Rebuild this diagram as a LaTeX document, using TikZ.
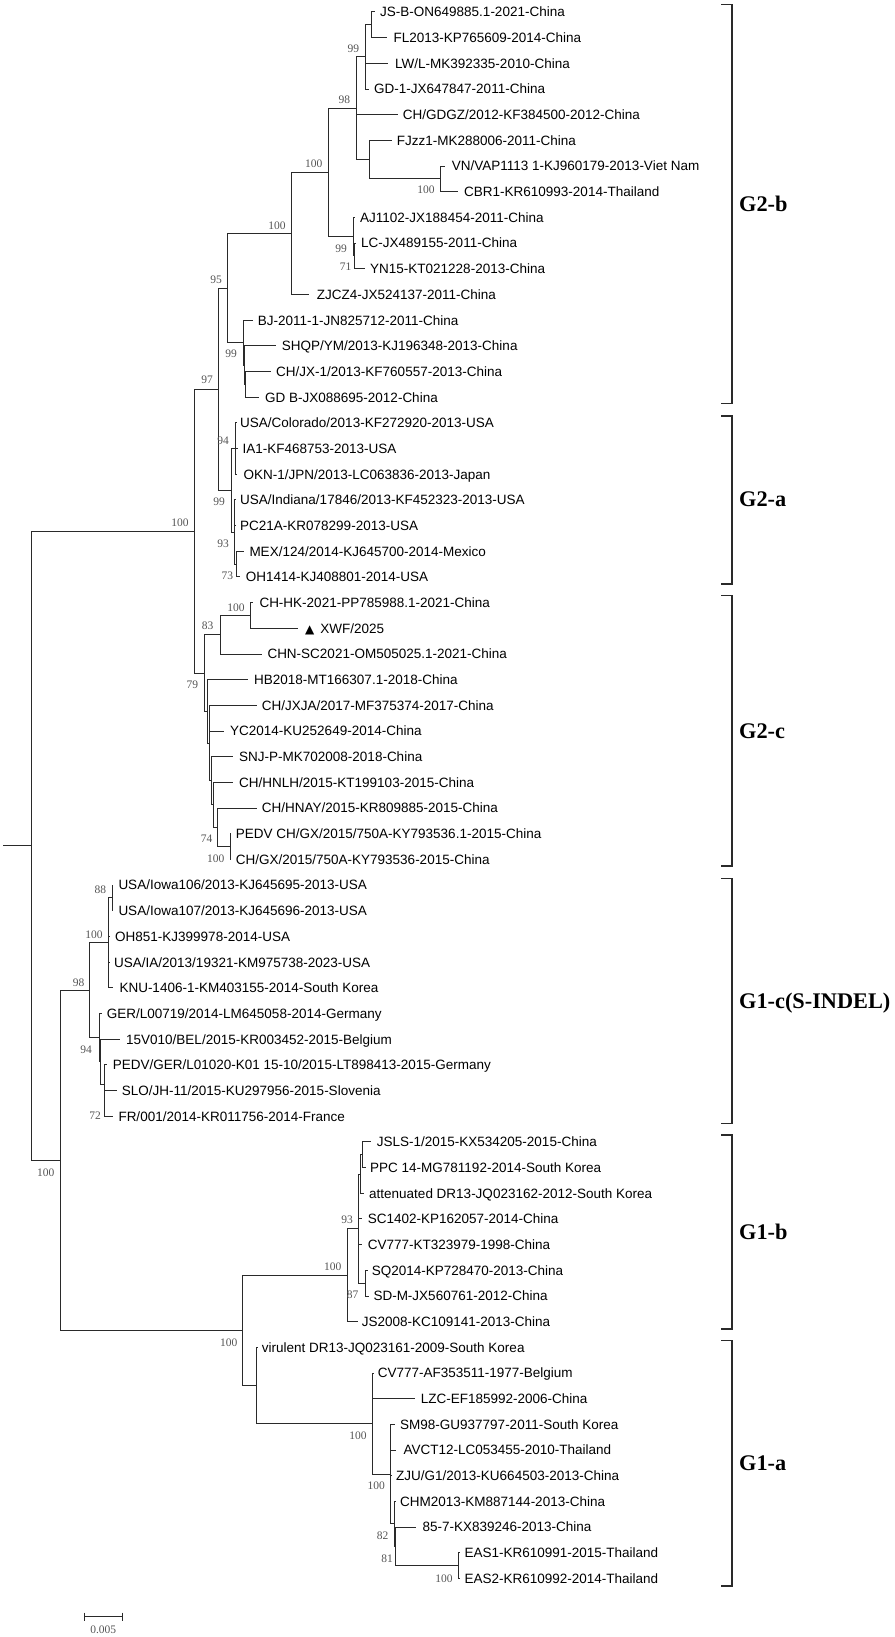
\documentclass[tikz,border=0pt]{standalone}
\usepackage{fontspec}
\newfontfamily\SansF{Liberation Sans}
\newfontfamily\SerifF{Liberation Serif}
\newfontfamily\SymF{DejaVu Sans}
\newcommand{\LeafFont}{\SansF\fontsize{13.5}{15}\selectfont}
\newcommand{\BsFont}{\SerifF\fontsize{11.5}{13}\selectfont}
\newcommand{\CladeFont}{\SerifF\bfseries\fontsize{22.3}{24}\selectfont}
\definecolor{bsgray}{HTML}{555555}
\definecolor{linec}{HTML}{2A2A2A}
\tikzset{
  br/.style={draw=linec, line width=1pt},
  leaf/.style={font=\LeafFont, text=black, anchor=west, inner sep=0pt, text height=9.7pt, text depth=0pt},
  bs/.style={font=\BsFont, text=bsgray, inner sep=0pt, text height=7.8pt, text depth=0pt},
  clade/.style={font=\CladeFont, text=black, anchor=west, inner sep=0pt, text height=14.8pt, text depth=0pt},
  brk/.style={draw=linec, line width=1.2pt}
}
% leaf: id, index, tip x, text x, text
\newcommand{\Lf}[5]{%
  \coordinate (#1) at (#3, {12+25.68*#2});
  \node[leaf] (#1t) at (#4, {12+25.68*#2}) {#5};
}
\newcommand{\Kids}[2]{\foreach \c in {#2}{\draw[br] (#1) |- (\c);}}
\newcommand{\Bs}[4]{\node[bs] (#1) at (#2,#3) {#4};}
\newcommand{\Brk}[5]{%
  \coordinate (#1a) at (721,#2); \coordinate (#1b) at (732,#2);
  \coordinate (#1c) at (732,#3); \coordinate (#1d) at (721,#3);
  \draw[brk] (#1a) -- (#1b) -- (#1c) -- (#1d);
  \node[clade] (#1l) at (739,#5) {#4};
}
\begin{document}
\begin{tikzpicture}[x=1pt, y=-1pt]
\fill[white] (0,0) rectangle (894,1637);
\useasboundingbox (0,0) rectangle (894,1637);

% ---------------- leaves ----------------
\Lf{L0}{0}{375}{380}{JS-B-ON649885.1-2021-China}
\Lf{L1}{1}{386.7}{393.3}{FL2013-KP765609-2014-China}
\Lf{L2}{2}{388.3}{395}{LW/L-MK392335-2010-China}
\Lf{L3}{3}{369}{374}{GD-1-JX647847-2011-China}
\Lf{L4}{4}{397.7}{402.7}{CH/GDGZ/2012-KF384500-2012-China}
\Lf{L5}{5}{391.7}{396.7}{FJzz1-MK288006-2011-China}
\Lf{L6}{6}{445}{451.7}{VN/VAP1113 1-KJ960179-2013-Viet Nam}
\Lf{L7}{7}{458.3}{464}{CBR1-KR610993-2014-Thailand}
\Lf{L8}{8}{355}{360}{AJ1102-JX188454-2011-China}
\Lf{L9}{9}{356}{361}{LC-JX489155-2011-China}
\Lf{L10}{10}{365}{370}{YN15-KT021228-2013-China}
\Lf{L11}{11}{309}{316.7}{ZJCZ4-JX524137-2011-China}
\Lf{L12}{12}{253.3}{257.7}{BJ-2011-1-JN825712-2011-China}
\Lf{L13}{13}{276}{281.7}{SHQP/YM/2013-KJ196348-2013-China}
\Lf{L14}{14}{271}{276}{CH/JX-1/2013-KF760557-2013-China}
\Lf{L15}{15}{259.3}{265}{GD B-JX088695-2012-China}
\Lf{L16}{16}{236.7}{240}{USA/Colorado/2013-KF272920-2013-USA}
\Lf{L17}{17}{237.7}{242.3}{IA1-KF468753-2013-USA}
\Lf{L18}{18}{237.3}{243.3}{OKN-1/JPN/2013-LC063836-2013-Japan}
\Lf{L19}{19}{235.5}{240}{USA/Indiana/17846/2013-KF452323-2013-USA}
\Lf{L20}{20}{235.5}{240}{PC21A-KR078299-2013-USA}
\Lf{L21}{21}{244.3}{249.3}{MEX/124/2014-KJ645700-2014-Mexico}
\Lf{L22}{22}{240}{245.7}{OH1414-KJ408801-2014-USA}
\Lf{L23}{23}{253.3}{259.3}{CH-HK-2021-PP785988.1-2021-China}
\Lf{L24}{24}{297.7}{305}{{\SymF\fontsize{12}{14}\selectfont ▲}\hspace{6pt}XWF/2025}
\Lf{L25}{25}{261.7}{267.3}{CHN-SC2021-OM505025.1-2021-China}
\Lf{L26}{26}{248.3}{254}{HB2018-MT166307.1-2018-China}
\Lf{L27}{27}{256.7}{261.7}{CH/JXJA/2017-MF375374-2017-China}
\Lf{L28}{28}{224}{230}{YC2014-KU252649-2014-China}
\Lf{L29}{29}{233.3}{239}{SNJ-P-MK702008-2018-China}
\Lf{L30}{30}{233.3}{239}{CH/HNLH/2015-KT199103-2015-China}
\Lf{L31}{31}{256.7}{261.7}{CH/HNAY/2015-KR809885-2015-China}
\Lf{L32}{32}{231}{235.7}{PEDV CH/GX/2015/750A-KY793536.1-2015-China}
\Lf{L33}{33}{231}{235.7}{CH/GX/2015/750A-KY793536-2015-China}
\Lf{L34}{34}{113.3}{118.3}{USA/Iowa106/2013-KJ645695-2013-USA}
\Lf{L35}{35}{113.3}{118.3}{USA/Iowa107/2013-KJ645696-2013-USA}
\Lf{L36}{36}{110}{115}{OH851-KJ399978-2014-USA}
\Lf{L37}{37}{109.5}{114}{USA/IA/2013/19321-KM975738-2023-USA}
\Lf{L38}{38}{113.3}{119.3}{KNU-1406-1-KM403155-2014-South Korea}
\Lf{L39}{39}{101.7}{106.7}{GER/L00719/2014-LM645058-2014-Germany}
\Lf{L40}{40}{120}{126}{15V010/BEL/2015-KR003452-2015-Belgium}
\Lf{L41}{41}{106.7}{112.7}{PEDV/GER/L01020-K01 15-10/2015-LT898413-2015-Germany}
\Lf{L42}{42}{116.7}{121.7}{SLO/JH-11/2015-KU297956-2015-Slovenia}
\Lf{L43}{43}{113.3}{118.3}{FR/001/2014-KR011756-2014-France}
\Lf{L44}{44}{371}{376.7}{JSLS-1/2015-KX534205-2015-China}
\Lf{L45}{45}{366}{370}{PPC 14-MG781192-2014-South Korea}
\Lf{L46}{46}{363.5}{369}{attenuated DR13-JQ023162-2012-South Korea}
\Lf{L47}{47}{362}{367.7}{SC1402-KP162057-2014-China}
\Lf{L48}{48}{362}{367.7}{CV777-KT323979-1998-China}
\Lf{L49}{49}{368.3}{371.7}{SQ2014-KP728470-2013-China}
\Lf{L50}{50}{369}{373.3}{SD-M-JX560761-2012-China}
\Lf{L51}{51}{357.7}{361.7}{JS2008-KC109141-2013-China}
\Lf{L52}{52}{257.5}{261.7}{virulent DR13-JQ023161-2009-South Korea}
\Lf{L53}{53}{373.5}{377.7}{CV777-AF353511-1977-Belgium}
\Lf{L54}{54}{415}{420.7}{LZC-EF185992-2006-China}
\Lf{L55}{55}{395}{400}{SM98-GU937797-2011-South Korea}
\Lf{L56}{56}{396}{403.3}{AVCT12-LC053455-2010-Thailand}
\Lf{L57}{57}{392}{396}{ZJU/G1/2013-KU664503-2013-China}
\Lf{L58}{58}{396}{400}{CHM2013-KM887144-2013-China}
\Lf{L59}{59}{416}{422.3}{85-7-KX839246-2013-China}
\Lf{L60}{60}{460}{464.3}{EAS1-KR610991-2015-Thailand}
\Lf{L61}{61}{460}{464.3}{EAS2-KR610992-2014-Thailand}

% ---------------- internal nodes ----------------
\coordinate (a1) at (371,24.84);
\coordinate (b1) at (365.7,56.94);
\coordinate (c1) at (440.7,178.92);
\coordinate (c2) at (369.3,159.66);
\coordinate (b2) at (356.7,108.3);
\coordinate (d2) at (354.7,255.96);
\coordinate (d1) at (353.3,236.7);
\coordinate (e1) at (328.3,172.5);
\coordinate (e2) at (291.7,233.49);
\coordinate (f3) at (245.5,384.36);
\coordinate (f2) at (244.5,365.1);
\coordinate (f1) at (243.3,342.63);
\coordinate (g1) at (227.7,288.06);
\coordinate (h1) at (235,448.56);
\coordinate (h3) at (236,564.12);
\coordinate (h2) at (234.3,532.02);
\coordinate (h0) at (231,490.29);
\coordinate (g0) at (218.3,389.18);
\coordinate (k1) at (250,615.48);
\coordinate (k2) at (220,634.74);
\coordinate (m1) at (230,846.6);
\coordinate (m2) at (217.3,827.34);
\coordinate (n4) at (213.3,804.87);
\coordinate (n3) at (211.7,780.8);
\coordinate (n2) at (209.5,743.08);
\coordinate (n1) at (207.7,711.38);
\coordinate (k0) at (204,673.06);
\coordinate (nG2) at (194.3,531.12);
\coordinate (p0) at (112.3,897.96);
\coordinate (p1) at (108.3,942.9);
\coordinate (q5) at (104.7,1103.4);
\coordinate (q4) at (104,1084.14);
\coordinate (q2) at (100.3,1061.67);
\coordinate (q1) at (99.3,1037.6);
\coordinate (r1) at (89.3,990.25);
\coordinate (t3a) at (362.3,1154.76);
\coordinate (t3) at (360.5,1174.02);
\coordinate (t4) at (365,1283.16);
\coordinate (t2) at (358.3,1228.59);
\coordinate (t1) at (347.7,1275.14);
\coordinate (v) at (458.3,1565.64);
\coordinate (u5) at (395.7,1546.38);
\coordinate (u4) at (394.3,1523.91);
\coordinate (u3) at (390.7,1474.16);
\coordinate (u2) at (372.3,1423.6);
\coordinate (u1) at (256,1385.48);
\coordinate (s0) at (242.7,1330.31);
\coordinate (nG1) at (60,1160.28);
\coordinate (nroot) at (31,845.7);
\coordinate (stub) at (3.3,845.7);

% ---------------- branches ----------------
\draw[br] (stub) -- (nroot);
\Kids{nroot}{nG2,nG1}
\Kids{nG2}{g0,k0}
\Kids{g0}{g1,h0}
\Kids{g1}{e2,f1}
\Kids{e2}{e1,L11}
\Kids{e1}{b2,d1}
\Kids{b2}{b1,L4,c2}
\Kids{b1}{a1,L2,L3}
\Kids{a1}{L0,L1}
\Kids{c2}{L5,c1}
\Kids{c1}{L6,L7}
\Kids{d1}{L8,d2}
\Kids{d2}{L9,L10}
\Kids{f1}{L12,f2}
\Kids{f2}{L13,f3}
\Kids{f3}{L14,L15}
\Kids{h0}{h1,h2}
\Kids{h1}{L16,L17,L18}
\Kids{h2}{L19,L20,h3}
\Kids{h3}{L21,L22}
\Kids{k0}{k2,n1}
\Kids{k2}{k1,L25}
\Kids{k1}{L23,L24}
\Kids{n1}{L26,n2}
\Kids{n2}{L27,L28,n3}
\Kids{n3}{L29,n4}
\Kids{n4}{L30,m2}
\Kids{m2}{L31,m1}
\Kids{m1}{L32,L33}
\Kids{nG1}{r1,s0}
\Kids{r1}{p1,q1}
\Kids{p1}{p0,L36,L37,L38}
\Kids{p0}{L34,L35}
\Kids{q1}{L39,q2}
\Kids{q2}{L40,q4}
\Kids{q4}{L41,q5}
\Kids{q5}{L42,L43}
\Kids{s0}{t1,u1}
\Kids{t1}{t2,L51}
\Kids{t2}{t3,L47,L48,t4}
\Kids{t3}{t3a,L46}
\Kids{t3a}{L44,L45}
\Kids{t4}{L49,L50}
\Kids{u1}{L52,u2}
\Kids{u2}{L53,L54,u3}
\Kids{u3}{L55,L56,L57,u4}
\Kids{u4}{L58,u5}
\Kids{u5}{L59,v}
\Kids{v}{L60,L61}

% ---------------- bootstrap values ----------------
\Bs{bs1}{353.3}{48.3}{99}
\Bs{bs2}{344.3}{99.3}{98}
\Bs{bs3}{313.7}{164}{100}
\Bs{bs4}{426}{190}{100}
\Bs{bs5}{277}{225.3}{100}
\Bs{bs6}{341}{248.3}{99}
\Bs{bs7}{345.7}{266.7}{71}
\Bs{bs8}{216}{279.3}{95}
\Bs{bs9}{231}{354}{99}
\Bs{bs10}{207}{380}{97}
\Bs{bs11}{223.2}{440.7}{94}
\Bs{bs12}{219}{501.7}{99}
\Bs{bs13}{180}{522.3}{100}
\Bs{bs14}{223}{544}{93}
\Bs{bs15}{227.3}{576}{73}
\Bs{bs16}{236}{607.3}{100}
\Bs{bs17}{207.7}{626}{83}
\Bs{bs18}{192.3}{685}{79}
\Bs{bs19}{206.7}{839}{74}
\Bs{bs20}{215.7}{858.3}{100}
\Bs{bs21}{100.3}{889.3}{88}
\Bs{bs22}{94}{935}{100}
\Bs{bs23}{78.7}{982.7}{98}
\Bs{bs24}{86}{1050}{94}
\Bs{bs25}{95}{1116}{72}
\Bs{bs26}{45.7}{1172.3}{100}
\Bs{bs27}{347}{1220}{93}
\Bs{bs28}{332.7}{1266.7}{100}
\Bs{bs29}{352.7}{1294.3}{87}
\Bs{bs30}{228.7}{1342.7}{100}
\Bs{bs31}{358}{1436}{100}
\Bs{bs32}{376.3}{1486}{100}
\Bs{bs33}{382.7}{1536}{82}
\Bs{bs34}{387}{1559}{81}
\Bs{bs35}{444}{1578.3}{100}

% ---------------- clade brackets ----------------
\Brk{cb}{4.7}{403.3}{G2-b}{204}
\Brk{ca}{416}{584}{G2-a}{499.3}
\Brk{cc}{595.7}{866}{G2-c}{730.7}
\Brk{gc}{878.3}{1123.3}{G1-c(S-INDEL)}{1000.7}
\Brk{gb}{1135}{1329}{G1-b}{1231.7}
\Brk{ga}{1340.7}{1586}{G1-a}{1463.3}

% ---------------- scale bar ----------------
\coordinate (sb1) at (84.3,1616.7);
\coordinate (sb2) at (122.3,1616.7);
\draw[br] (sb1) -- (sb2);
\draw[br] ([yshift=4.2pt]sb1) -- ([yshift=-4.2pt]sb1);
\draw[br] ([yshift=4.2pt]sb2) -- ([yshift=-4.2pt]sb2);
\node[bs] (sblabel) at (103.3,1629.3) {0.005};
\end{tikzpicture}
\end{document}
